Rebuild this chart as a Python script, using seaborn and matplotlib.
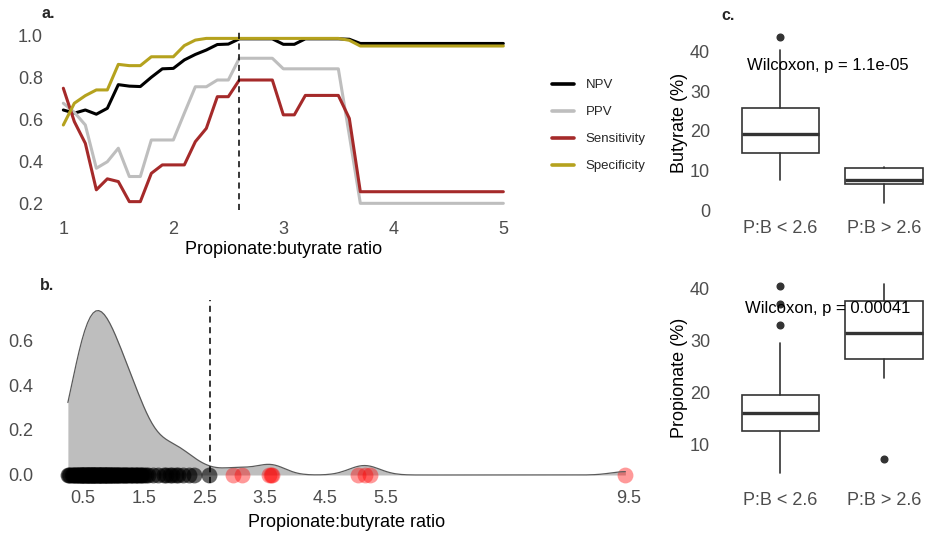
import numpy as np
import pandas as pd
import matplotlib
matplotlib.use("Agg")
import matplotlib.pyplot as plt
import seaborn as sns

# ---------------- data: panel a (cut-off performance) ----------------
thresholds = [1.0, 1.1, 1.2, 1.3, 1.4, 1.5, 1.6, 1.7, 1.8, 1.9,
              2.0, 2.1, 2.2, 2.3, 2.4, 2.5, 2.6, 2.7, 2.8, 2.9,
              3.0, 3.1, 3.2, 3.3, 3.4, 3.5, 3.6, 3.7, 3.8, 3.9,
              4.0, 4.1, 4.2, 4.3, 4.4, 4.5, 4.6, 4.7, 4.8, 4.9, 5.0]
npv = [0.645, 0.630, 0.645, 0.625, 0.653, 0.765, 0.758, 0.756, 0.800, 0.840,
       0.842, 0.882, 0.908, 0.929, 0.955, 0.957, 0.982, 0.982, 0.982, 0.982,
       0.956, 0.956, 0.982, 0.982, 0.982, 0.982, 0.980, 0.960, 0.960, 0.960,
       0.960, 0.960, 0.960, 0.960, 0.960, 0.960, 0.960, 0.960, 0.960, 0.960, 0.960]
ppv = [0.677, 0.634, 0.574, 0.369, 0.400, 0.464, 0.330, 0.330, 0.503, 0.503,
       0.503, 0.630, 0.755, 0.755, 0.787, 0.787, 0.890, 0.890, 0.890, 0.890,
       0.840, 0.840, 0.840, 0.840, 0.840, 0.840, 0.525, 0.203, 0.203, 0.203,
       0.203, 0.203, 0.203, 0.203, 0.203, 0.203, 0.203, 0.203, 0.203, 0.203, 0.203]
sensitivity = [0.748, 0.590, 0.487, 0.267, 0.319, 0.306, 0.211, 0.211, 0.345, 0.385,
               0.385, 0.385, 0.495, 0.558, 0.708, 0.708, 0.787, 0.787, 0.787, 0.787,
               0.622, 0.622, 0.714, 0.714, 0.714, 0.714, 0.605, 0.258, 0.258, 0.258,
               0.258, 0.258, 0.258, 0.258, 0.258, 0.258, 0.258, 0.258, 0.258, 0.258, 0.258]
specificity = [0.574, 0.677, 0.713, 0.740, 0.740, 0.861, 0.855, 0.855, 0.897, 0.897,
               0.897, 0.950, 0.976, 0.984, 0.984, 0.984, 0.984, 0.984, 0.984, 0.984,
               0.984, 0.984, 0.984, 0.984, 0.984, 0.984, 0.975, 0.948, 0.948, 0.948,
               0.948, 0.948, 0.948, 0.948, 0.948, 0.948, 0.948, 0.948, 0.948, 0.948, 0.948]
metric_names = ["NPV", "PPV", "Sensitivity", "Specificity"]
metric_colors = ["#000000", "#BEBEBE", "#A52A2A", "#B5A21E"]
cutoff = 2.6

# ---------------- data: panel b (ratio distribution) ----------------
ratio_values = [
    0.25, 0.27, 0.29,
    0.31, 0.33, 0.35, 0.37, 0.39,
    0.40, 0.42, 0.43, 0.44, 0.46, 0.47, 0.48, 0.49,
    0.50, 0.51, 0.52, 0.54, 0.55, 0.56, 0.57, 0.58, 0.59,
    0.60, 0.61, 0.62, 0.63, 0.64, 0.65, 0.66, 0.67, 0.68, 0.69,
    0.70, 0.71, 0.72, 0.74, 0.75, 0.76, 0.77, 0.78, 0.79,
    0.80, 0.81, 0.82, 0.84, 0.85, 0.86, 0.87, 0.88, 0.89,
    0.90, 0.91, 0.93, 0.94, 0.95, 0.96, 0.98, 0.99,
    1.00, 1.02, 1.03, 1.05, 1.06, 1.08, 1.09,
    1.10, 1.12, 1.14, 1.16, 1.17, 1.19,
    1.21, 1.23, 1.25, 1.27, 1.29,
    1.31, 1.33, 1.35, 1.37, 1.39,
    1.41, 1.44, 1.46, 1.48,
    1.51, 1.54, 1.57,
    1.66, 1.74, 1.84, 1.87, 1.93, 1.97, 2.03, 2.07, 2.15, 2.25, 2.33, 2.58,
    2.97, 3.12, 3.57, 3.60, 3.62, 5.04, 5.15, 5.24, 9.45,
]
b_xticks = [0.5, 1.5, 2.5, 3.5, 4.5, 5.5, 9.5]
kde_bandwidth = 0.24

# ---------------- data: panel c (box plot statistics) ----------------
group_labels = ["P:B < 2.6", "P:B > 2.6"]
but_q1 = [14.3, 6.6]
but_med = [19.2, 7.6]
but_q3 = [25.7, 10.5]
but_lo = [7.6, 1.7]
but_hi = [40.4, 10.8]
but_out = [[43.6], []]
pro_q1 = [12.7, 26.5]
pro_med = [16.2, 31.5]
pro_q3 = [19.6, 37.6]
pro_lo = [4.7, 22.8]
pro_hi = [29.6, 40.8]
pro_out = [[33.0, 37.1, 40.5], [7.4]]
but_label = "Wilcoxon, p = 1.1e-05"
pro_label = "Wilcoxon, p = 0.00041"

# ---------------- style ----------------
sns.set_style("white")
plt.rcParams["font.family"] = ["Liberation Sans", "DejaVu Sans"]
TICK_C = "#4D4D4D"
TICK_FS = 13
W, H = 926, 533
fig = plt.figure(figsize=(W / 100, H / 100), dpi=100)


def add_ax(l, t, r, b):
    return fig.add_axes([l / W, 1 - b / H, (r - l) / W, (b - t) / H])


def clean(ax):
    for s in ax.spines.values():
        s.set_visible(False)
    ax.grid(False)
    ax.set_facecolor("white")


# ---------------- panel a ----------------
axa = add_ax(41, 30.8, 525, 210.3)
df_a = pd.DataFrame({
    "ratio": thresholds * 4,
    "value": npv + ppv + sensitivity + specificity,
    "metric": sum([[m] * len(thresholds) for m in metric_names], []),
})
sns.lineplot(data=df_a, x="ratio", y="value", hue="metric", hue_order=metric_names,
             palette=dict(zip(metric_names, metric_colors)), linewidth=2.2, ax=axa)
handles, labels = axa.get_legend_handles_labels()
axa.get_legend().remove()
axa.axvline(cutoff, color="black", linestyle=(0, (4, 3)), linewidth=1.1)
clean(axa)
axa.set_xlim(0.797, 5.197)
axa.set_ylim(0.170, 1.020)
axa.set_xticks([1, 2, 3, 4, 5])
axa.set_xticklabels(["1", "2", "3", "4", "5"])
axa.set_yticks([0.2, 0.4, 0.6, 0.8, 1.0])
axa.set_yticklabels(["0.2", "0.4", "0.6", "0.8", "1.0"])
axa.tick_params(axis="x", length=0, pad=7.5, labelsize=TICK_FS, labelcolor=TICK_C)
axa.tick_params(axis="y", length=0, pad=-1.5, labelsize=TICK_FS, labelcolor=TICK_C)
axa.set_xlabel("Propionate:butyrate ratio", fontsize=13, color="black")
axa.set_ylabel("")
axa.xaxis.set_label_coords(0.501, -0.17)

for h in handles:
    h.set_linewidth(2.6)
fig.legend(handles, labels, loc="upper left", bbox_to_anchor=(552 / W, 1 - 79 / H),
           frameon=False, fontsize=9.5, handlelength=1.7, handletextpad=0.85,
           labelspacing=1.12, borderpad=0, borderaxespad=0)

# ---------------- panel b ----------------
axb = add_ax(40, 300.2, 653, 483.3)
ratio_arr = np.array(ratio_values)
bw_factor = kde_bandwidth / np.std(ratio_arr, ddof=1)
sns.kdeplot(x=ratio_arr, bw_method=bw_factor, cut=0, fill=True, color="#BEBEBE",
            alpha=1, linewidth=0, ax=axb)
sns.kdeplot(x=ratio_arr, bw_method=bw_factor, cut=0, fill=False, color="#5A5A5A",
            linewidth=0.9, ax=axb)
low = ratio_arr[ratio_arr < cutoff]
high = ratio_arr[ratio_arr >= cutoff]
sns.scatterplot(x=low, y=np.zeros(len(low)), color="black", alpha=0.6, s=130,
                linewidth=0, ax=axb, legend=False)
sns.scatterplot(x=high, y=np.zeros(len(high)), color="#FF0000", alpha=0.4, s=130,
                linewidth=0, ax=axb, legend=False)
axb.axvline(cutoff, color="black", linestyle=(0, (4, 3)), linewidth=1.1)
clean(axb)
axb.set_xlim(-0.21, 9.906)
axb.set_ylim(-0.0369, 0.7769)
axb.set_xticks(b_xticks)
axb.set_xticklabels([f"{v:.1f}" for v in b_xticks])
axb.set_yticks([0.0, 0.2, 0.4, 0.6])
axb.set_yticklabels(["0.0", "0.2", "0.4", "0.6"])
axb.tick_params(axis="x", length=0, pad=4.5, labelsize=TICK_FS, labelcolor=TICK_C)
axb.tick_params(axis="y", length=0, pad=5, labelsize=TICK_FS, labelcolor=TICK_C)
axb.set_xlabel("Propionate:butyrate ratio", fontsize=13, color="black")
axb.set_ylabel("")
axb.xaxis.set_label_coords(0.5, -0.169)


# ---------------- panel c ----------------
def box_panel(ax, q1, med, q3, lo, hi, out, ylabel, label, label_y, ylim, yticks, ylab_y):
    stats = [{"q1": q1[i], "med": med[i], "q3": q3[i], "whislo": lo[i],
              "whishi": hi[i], "fliers": out[i], "label": group_labels[i]}
             for i in range(len(group_labels))]
    ax.bxp(stats, positions=[1, 2], widths=0.75, showcaps=False, patch_artist=True,
           boxprops=dict(facecolor="white", edgecolor="#333333", linewidth=1.2),
           medianprops=dict(color="#333333", linewidth=2.4),
           whiskerprops=dict(color="#333333", linewidth=1.2),
           flierprops=dict(marker="o", markerfacecolor="#333333",
                           markeredgecolor="#333333", markersize=4.8))
    clean(ax)
    ax.set_xlim(0.4, 2.406)
    ax.set_ylim(*ylim)
    ax.set_yticks(yticks)
    ax.set_yticklabels([str(v) for v in yticks])
    ax.set_xticks([1, 2])
    ax.set_xticklabels(group_labels)
    ax.tick_params(axis="both", length=0, labelsize=TICK_FS, labelcolor=TICK_C)
    ax.tick_params(axis="y", pad=6)
    ax.set_ylabel(ylabel, fontsize=13, color="black")
    ax.yaxis.set_label_coords(-0.145, ylab_y)
    ax.text(1.46, label_y, label, ha="center", va="center", fontsize=12, color="black")


axc1 = add_ax(718.4, 29.1, 926, 211.6)
box_panel(axc1, but_q1, but_med, but_q3, but_lo, but_hi, but_out, "Butyrate (%)",
          but_label, 36.6, (-0.4, 45.7), [0, 10, 20, 30, 40], 0.4855)
axc1.tick_params(axis="x", pad=6)

axc2 = add_ax(718.4, 274.8, 926, 482.1)
box_panel(axc2, pro_q1, pro_med, pro_q3, pro_lo, pro_hi, pro_out, "Propionate (%)",
          pro_label, 36.2, (2.89, 42.6), [10, 20, 30, 40], 0.502)
axc2.tick_params(axis="x", pad=6.8)

# ---------------- panel tags ----------------
fig.text(48 / W, 1 - 14 / H, "a.", fontsize=11.5, fontweight="bold", ha="center", va="center")
fig.text(47 / W, 1 - 285 / H, "b.", fontsize=11.5, fontweight="bold", ha="center", va="center")
fig.text(728 / W, 1 - 15 / H, "c.", fontsize=11.5, fontweight="bold", ha="center", va="center")

fig.savefig("out.png", dpi=100, facecolor="white")
